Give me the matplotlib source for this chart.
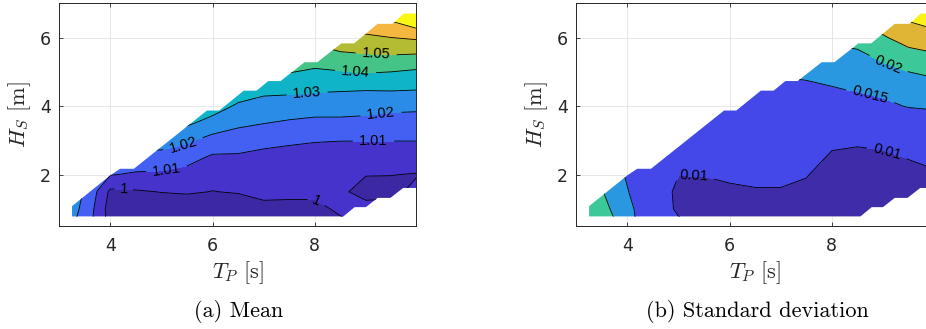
import numpy as np
import matplotlib.pyplot as plt
from matplotlib.patches import Polygon

plt.rcParams['mathtext.fontset'] = 'cm'
plt.rcParams['font.family'] = ['DejaVu Sans']

# grid of sea states (peak period / significant wave height)
tp = [3.25, 3.5, 3.75, 4.0, 4.5, 5.0, 5.5, 6.0, 6.5, 7.0, 7.5, 8.0, 8.5, 9.0, 9.5, 10.0]
hs = [0.75, 1.0, 1.5, 2.0, 2.5, 3.0, 3.5, 4.0, 4.5, 5.0, 5.5, 6.0, 6.5, 7.0]

# (a) mean, one row per Hs value
mean_vals = [
    [1.024, 1.013, 1.0083, 0.995, 0.994, 0.993, 0.993, 0.993, 0.993, 0.994, 0.994, 0.994, 0.9995, 1.004, 1.005, 1.006],
    [1.025, 1.016, 1.0075, 0.995, 0.994, 0.994, 0.994, 0.994, 0.994, 0.997, 0.997, 0.997, 1.002, 1.003, 1.004, 1.005],
    [1.030, 1.018, 1.0095, 0.998, 0.999, 1.0003, 1.001, 0.9998, 1.0007, 1.003, 1.0025, 1.0025, 1.0015, 0.997, 0.997, 1.003],
    [1.035, 1.022, 1.016, 1.0105, 1.0088, 1.0085, 1.0065, 1.003, 1.005, 1.005, 1.0045, 1.0045, 1.004, 1.0003, 1.0002, 0.9995],
    [1.040, 1.028, 1.022, 1.020, 1.0163, 1.0155, 1.0135, 1.0085, 1.0087, 1.0075, 1.0065, 1.0065, 1.006, 1.0055, 1.0055, 1.0055],
    [1.045, 1.034, 1.030, 1.028, 1.025, 1.0257, 1.0216, 1.0165, 1.0145, 1.0125, 1.0115, 1.0105, 1.0102, 1.0102, 1.0102, 1.0102],
    [1.050, 1.040, 1.037, 1.035, 1.032, 1.034, 1.0316, 1.0262, 1.0221, 1.0202, 1.0185, 1.0175, 1.0175, 1.0172, 1.016, 1.0155],
    [1.055, 1.047, 1.044, 1.042, 1.039, 1.041, 1.038, 1.0348, 1.0285, 1.0265, 1.026, 1.0245, 1.0245, 1.0235, 1.0225, 1.0222],
    [1.060, 1.054, 1.051, 1.049, 1.046, 1.048, 1.045, 1.042, 1.036, 1.0325, 1.0321, 1.0315, 1.031, 1.0307, 1.031, 1.0305],
    [1.065, 1.061, 1.058, 1.056, 1.053, 1.055, 1.052, 1.050, 1.044, 1.040, 1.0405, 1.0385, 1.0395, 1.0408, 1.040, 1.0385],
    [1.070, 1.068, 1.065, 1.063, 1.060, 1.062, 1.059, 1.057, 1.050, 1.047, 1.048, 1.046, 1.0485, 1.0495, 1.0502, 1.0495],
    [1.075, 1.075, 1.072, 1.070, 1.067, 1.069, 1.066, 1.064, 1.056, 1.054, 1.056, 1.053, 1.057, 1.0585, 1.060, 1.0615],
    [1.080, 1.080, 1.079, 1.077, 1.074, 1.076, 1.073, 1.070, 1.062, 1.060, 1.062, 1.060, 1.064, 1.066, 1.0705, 1.0775],
    [1.085, 1.085, 1.085, 1.084, 1.081, 1.083, 1.080, 1.076, 1.068, 1.066, 1.068, 1.066, 1.070, 1.072, 1.078, 1.085],
]

# (b) standard deviation, one row per Hs value
std_vals = [
    [0.0225, 0.0212, 0.0199, 0.0165, 0.0115, 0.01005, 0.0094, 0.0093, 0.0093, 0.0093, 0.0092, 0.0090, 0.0090, 0.0090, 0.0090, 0.0090],
    [0.0228, 0.0212, 0.0193, 0.0163, 0.0112, 0.0097, 0.0093, 0.0093, 0.0093, 0.0093, 0.0092, 0.0090, 0.0090, 0.0090, 0.0090, 0.0090],
    [0.0240, 0.0203, 0.0178, 0.0152, 0.0112, 0.0096, 0.0094, 0.0098, 0.0099, 0.0099, 0.0096, 0.0091, 0.0091, 0.0091, 0.0091, 0.0092],
    [0.0250, 0.0190, 0.0165, 0.0145, 0.0120, 0.01003, 0.01007, 0.0102, 0.0103, 0.0103, 0.0101, 0.0092, 0.0091, 0.0092, 0.0095, 0.0098],
    [0.0250, 0.0180, 0.0160, 0.0142, 0.0122, 0.0108, 0.0110, 0.0108, 0.0108, 0.0108, 0.0106, 0.0098, 0.0095, 0.0097, 0.01007, 0.0104],
    [0.0250, 0.0170, 0.0155, 0.0140, 0.0125, 0.0115, 0.0116, 0.0114, 0.0113, 0.0113, 0.0112, 0.0103, 0.0103, 0.0104, 0.0108, 0.0115],
    [0.0250, 0.0160, 0.0150, 0.0140, 0.0128, 0.0120, 0.0121, 0.0120, 0.0119, 0.0119, 0.0119, 0.0115, 0.0118, 0.0123, 0.0128, 0.0132],
    [0.0250, 0.0160, 0.0150, 0.0140, 0.0130, 0.0125, 0.0126, 0.0126, 0.0125, 0.0126, 0.0128, 0.0131, 0.0135, 0.0143, 0.0152, 0.0155],
    [0.0250, 0.0160, 0.0150, 0.0140, 0.0130, 0.0130, 0.0130, 0.0132, 0.0133, 0.0138, 0.0142, 0.0148, 0.0153, 0.0158, 0.0172, 0.0180],
    [0.0250, 0.0160, 0.0150, 0.0140, 0.0130, 0.0130, 0.0135, 0.0140, 0.0145, 0.0155, 0.0158, 0.0161, 0.0172, 0.0188, 0.0200, 0.0210],
    [0.0250, 0.0160, 0.0150, 0.0140, 0.0130, 0.0130, 0.0135, 0.0150, 0.0160, 0.0175, 0.0180, 0.0182, 0.0193, 0.0210, 0.0235, 0.0245],
    [0.0250, 0.0160, 0.0150, 0.0140, 0.0130, 0.0130, 0.0135, 0.0160, 0.0180, 0.0200, 0.0210, 0.0215, 0.0215, 0.0245, 0.0270, 0.0285],
    [0.0250, 0.0160, 0.0150, 0.0140, 0.0130, 0.0130, 0.0135, 0.0170, 0.0200, 0.0230, 0.0240, 0.0250, 0.0250, 0.0275, 0.0302, 0.0315],
    [0.0250, 0.0160, 0.0150, 0.0140, 0.0130, 0.0130, 0.0135, 0.0180, 0.0220, 0.0260, 0.0270, 0.0280, 0.0280, 0.0310, 0.0340, 0.0350],
]

# edge of the covered sea states (staircase)
tp_top = [3.25, 3.25, 4.0, 4.19, 4.46, 5.89, 6.13, 6.61, 6.86, 7.09, 7.33, 7.80, 8.05, 8.52, 8.77, 9.23, 9.52, 9.74, 10.0]
hs_top = [0.78, 1.08, 1.98, 2.17, 2.17, 3.87, 3.87, 4.45, 4.45, 4.73, 4.73, 5.28, 5.28, 5.83, 5.83, 6.40, 6.40, 6.70, 6.70]
tp_bot = [8.56, 8.78, 9.0, 9.23, 9.48, 9.73, 10.0]
hs_bot = [0.78, 1.05, 1.05, 1.32, 1.32, 1.61, 1.61]

mean_levels = [0.98, 1.0, 1.01, 1.02, 1.03, 1.04, 1.05, 1.06, 1.07, 1.10]
mean_colors = ['#3d28a4', '#4533cc', '#4360f2', '#2b8ce8', '#10b4c8',
               '#45c487', '#b4bc34', '#f4b840', '#f8f814']
mean_labels = [(4.26, 1.6), (8.05, 1.28), (5.1, 2.13), (9.15, 2.95), (5.43, 2.85),
               (9.3, 3.7), (7.85, 4.36), (8.8, 5.0), (9.2, 5.52)]

std_levels = [0.005, 0.01, 0.015, 0.02, 0.025, 0.03, 0.04]
std_colors = ['#3e2ca8', '#4548e8', '#2a98e0', '#3cc898', '#e0b434', '#f8f414']
std_labels = [(5.3, 1.97), (9.1, 2.75), (8.75, 4.31), (9.1, 5.2)]


def draw_panel(ax, z, levels, colors, label_pos, caption, cap_x):
    TP, HS = np.meshgrid(tp, hs)
    z = np.array(z)
    cf = ax.contourf(TP, HS, z, levels=levels, colors=colors)
    cl = ax.contour(TP, HS, z, levels=levels[1:-1], colors='k', linewidths=0.6)
    verts = list(zip(tp_bot, hs_bot)) + list(zip(tp_top[::-1], hs_top[::-1]))
    dom = Polygon(verts, closed=True, transform=ax.transData)
    cf.set_clip_path(dom)
    cl.set_clip_path(dom)
    lbls = ax.clabel(cl, levels=levels[1:-1], manual=label_pos, inline=True,
                     fmt=lambda v: f'{v:g}', fontsize=10.5, colors='k')
    for t in lbls:
        t.set_fontfamily('Liberation Sans')

    ax.set_xlim(3.0, 9.98)
    ax.set_ylim(0.5, 7.0)
    ax.set_xticks([4, 6, 8])
    ax.set_yticks([2, 4, 6])
    ax.grid(True, color='#e3e3e3', lw=0.6)
    ax.set_axisbelow(True)
    ax.tick_params(direction='in', length=3, width=0.6, top=True, right=True,
                   labelsize=12.5, colors='#262626')
    ax.tick_params(axis='x', pad=8)
    ax.tick_params(axis='y', pad=6)
    for s in ax.spines.values():
        s.set_color('#262626')
        s.set_linewidth(0.7)
    ax.set_xlabel(r'$T_P$ [s]', fontsize=16, color='#262626', fontfamily='cmr10')
    ax.set_ylabel(r'$H_S$ [m]', fontsize=16, color='#262626', fontfamily='cmr10')
    ax.xaxis.set_label_coords(0.5, -0.15)
    ax.yaxis.set_label_coords(-0.073, 0.5)
    fig.text(cap_x, 0.053, caption, ha='center', va='center', fontsize=16,
             fontfamily='cmr10')


fig = plt.figure(figsize=(9.26, 3.29), dpi=100)
ax1 = fig.add_axes([0.0640, 0.3131, 0.3852, 0.6769])
ax2 = fig.add_axes([0.6224, 0.3131, 0.3852, 0.6769])

draw_panel(ax1, mean_vals, mean_levels, mean_colors, mean_labels,
           '(a) Mean', 0.258)
draw_panel(ax2, std_vals, std_levels, std_colors, std_labels,
           '(b) Standard deviation', 0.8177)

plt.savefig('out.png', dpi=100)
